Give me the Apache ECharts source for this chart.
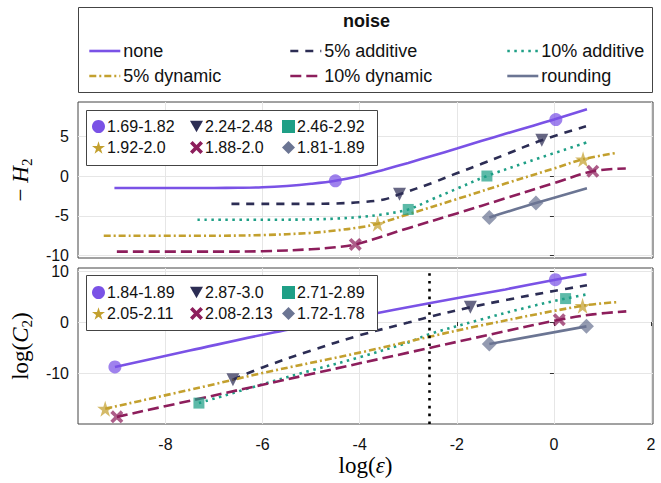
<!DOCTYPE html>
<html><head><meta charset="utf-8">
<script src="https://cdn.jsdelivr.net/npm/echarts@6/dist/echarts.min.js"></script>
<style>html,body{margin:0;padding:0;background:#fff}#c{width:661px;height:483px}</style>
</head><body><div id="c"></div>
<script>
// ---------------- data ----------------
const xTicks = [-8, -6, -4, -2, 0, 2];
const topYTicks = [-10, -5, 0, 5];
const botYTicks = [-10, 0, 10];
const noiseNames = ['none', '5% additive', '10% additive', '5% dynamic', '10% dynamic', 'rounding'];
const topRanges = ['1.69-1.82', '2.24-2.48', '2.46-2.92', '1.92-2.0', '1.88-2.0', '1.81-1.89'];
const botRanges = ['1.84-1.89', '2.87-3.0', '2.71-2.89', '2.05-2.11', '2.08-2.13', '1.72-1.78'];
const thresholdLogEps = -2.57;

// top panel: -H2 vs log(eps)
const topNoneX = [-9.05, -8, -7, -6.5, -6, -5.5, -5, -4.5, -4, -3.5, -3, -2.5, -2, -1.5, -1, -0.5, 0, 0.68];
const topNoneY = [-1.5, -1.5, -1.5, -1.48, -1.42, -1.25, -0.98, -0.6, 0.0, 0.8, 1.65, 2.55, 3.45, 4.4, 5.3, 6.2, 7.1, 8.4];
const topAdd5X = [-6.64, -5, -4.5, -4, -3.5, -3.18, -2.5, -2, -1.5, -1, -0.25, 0.66];
const topAdd5Y = [-3.5, -3.5, -3.45, -3.3, -2.95, -2.3, -0.85, 0.35, 1.5, 2.7, 4.5, 6.25];
const topAdd10X = [-7.34, -6, -5, -4.5, -4, -3.5, -3, -2.5, -2, -1.38, -0.5, 0.74];
const topAdd10Y = [-5.5, -5.5, -5.45, -5.35, -5.15, -4.8, -4.2, -2.9, -1.6, 0.0, 1.85, 4.35];
const topDyn5X = [-9.27, -7, -6, -5, -4.5, -4, -3.63, -3, -2, -1, 0, 0.6, 1.29];
const topDyn5Y = [-7.5, -7.5, -7.42, -7.15, -6.85, -6.45, -6.0, -4.8, -2.9, -0.95, 0.95, 2.1, 2.9];
const topDyn10X = [-9.0, -7, -6, -5, -4.5, -4.09, -3, -2, -1, 0, 0.8, 1.48];
const topDyn10Y = [-9.5, -9.5, -9.45, -9.2, -8.95, -8.6, -6.55, -4.7, -2.8, -0.9, 0.6, 0.95];
const topRoundX = [-1.33, -0.37, 0.68];
const topRoundY = [-5.2, -3.4, -1.55];
// fit-range markers (top)
const topNoneMX = [-4.5, 0.04],  topNoneMY = [-0.6, 7.1];
const topAdd5MX = [-3.18, -0.25], topAdd5MY = [-2.3, 4.5];
const topAdd10MX = [-3.0, -1.38], topAdd10MY = [-4.2, 0.0];
const topDyn5MX = [-3.63, 0.6],  topDyn5MY = [-6.0, 2.1];
const topDyn10MX = [-4.09, 0.8], topDyn10MY = [-8.6, 0.6];
const topRoundMX = [-1.33, -0.37], topRoundMY = [-5.2, -3.4];

// bottom panel: log(C2) vs log(eps)
const botNoneX = [-9.04, -7.5, -5.75, -4, -2.57, -1, 0.03, 0.67];
const botNoneY = [-8.8, -5.6, -2.0, 1.1, 3.7, 6.4, 8.3, 9.4];
const botAdd5X = [-6.61, -6, -5, -4, -3, -2.57, -1.72, -1, 0, 0.68];
const botAdd5Y = [-11.3, -8.9, -5.6, -2.6, -0.1, 1.0, 2.9, 4.3, 6.1, 7.2];
const botAdd10X = [-7.31, -6, -5, -4, -3, -2.57, -1.5, -0.5, 0.24, 0.72];
const botAdd10Y = [-15.9, -12.2, -9.5, -6.9, -4.0, -2.4, 0.5, 3.0, 4.6, 5.5];
const botDyn5X = [-9.24, -7.27, -6, -4, -2.57, -1.52, 0.59, 1.29];
const botDyn5Y = [-17.0, -12.8, -10.0, -6.0, -2.9, -0.7, 3.2, 3.9];
const botDyn10X = [-9.0, -7, -5, -3, -1, 0.11, 0.8, 1.49];
const botDyn10Y = [-18.6, -14.4, -10.2, -6.0, -1.8, 0.45, 1.5, 2.1];
const botRoundX = [-1.33, 0.67];
const botRoundY = [-4.3, -0.85];
// fit-range markers (bottom)
const botNoneMX = [-9.04, 0.03], botNoneMY = [-8.8, 8.3];
const botAdd5MX = [-6.61, -1.72], botAdd5MY = [-11.3, 2.9];
const botAdd10MX = [-7.31, 0.24], botAdd10MY = [-15.9, 4.6];
const botDyn5MX = [-9.24, 0.59], botDyn5MY = [-17.0, 3.2];
const botDyn10MX = [-9.0, 0.11], botDyn10MY = [-18.6, 0.45];
const botRoundMX = [-1.33, 0.67], botRoundMY = [-4.3, -0.85];

// ---------------- styles ----------------
const colors = ['#7a52e6', '#2c2d54', '#1f9f86', '#c3a02e', '#8d1e5c', '#6b7593'];
const dashes = ['solid', [8, 7], [2.5, 4.5], [7, 3, 2, 3], [11, 5], 'solid'];
const symbols = [
  'circle',
  'path://M0,0 L100,0 L50,87 Z',
  'rect',
  'path://M50,0 L61,35 L98,35 L68,57 L79,91 L50,70 L21,91 L32,57 L2,35 L39,35 Z',
  'path://M20,0 L50,30 L80,0 L100,20 L70,50 L100,80 L80,100 L50,70 L20,100 L0,80 L30,50 L0,20 Z',
  'diamond'
];
const symSizes = [13, 13, 11, 16, 13, 15];
const sansFont = 'Liberation Sans, Arial, sans-serif';
const serifFont = 'Liberation Serif, DejaVu Serif, serif';

const zip = (xs, ys) => xs.map((x, i) => [x, ys[i]]);
const topLines = [[topNoneX, topNoneY], [topAdd5X, topAdd5Y], [topAdd10X, topAdd10Y], [topDyn5X, topDyn5Y], [topDyn10X, topDyn10Y], [topRoundX, topRoundY]];
const topMarks = [[topNoneMX, topNoneMY], [topAdd5MX, topAdd5MY], [topAdd10MX, topAdd10MY], [topDyn5MX, topDyn5MY], [topDyn10MX, topDyn10MY], [topRoundMX, topRoundMY]];
const botLines = [[botNoneX, botNoneY], [botAdd5X, botAdd5Y], [botAdd10X, botAdd10Y], [botDyn5X, botDyn5Y], [botDyn10X, botDyn10Y], [botRoundX, botRoundY]];
const botMarks = [[botNoneMX, botNoneMY], [botAdd5MX, botAdd5MY], [botAdd10MX, botAdd10MY], [botDyn5MX, botDyn5MY], [botDyn10MX, botDyn10MY], [botRoundMX, botRoundMY]];

const series = [];
function addPanel(idx, lines, marks, rangeNames) {
  lines.forEach((l, i) => {
    series.push({
      type: 'line', name: noiseNames[i], xAxisIndex: idx, yAxisIndex: idx,
      data: zip(l[0], l[1]), symbol: 'none', smooth: 0.35, z: 2,
      color: colors[i],
      lineStyle: { color: colors[i], width: 2.6, type: dashes[i], cap: 'butt' }
    });
  });
  marks.forEach((m, i) => {
    series.push({
      type: 'scatter', name: rangeNames[i], xAxisIndex: idx, yAxisIndex: idx,
      data: zip(m[0], m[1]), symbol: symbols[i], symbolSize: symSizes[i], z: 3,
      color: colors[i],
      itemStyle: { color: colors[i], opacity: 0.72 }
    });
  });
}
addPanel(0, topLines, topMarks, topRanges);
addPanel(1, botLines, botMarks, botRanges);
// vertical dotted reference line in the lower panel
series.push({
  type: 'line', xAxisIndex: 1, yAxisIndex: 1, data: [], silent: true,
  markLine: {
    symbol: 'none', silent: true, label: { show: false },
    lineStyle: { color: '#000', width: 2.6, type: [2.6, 5.2] },
    data: [{ xAxis: thresholdLogEps }]
  }
});

const gridLine = { show: true, lineStyle: { color: '#e6e6e6', width: 1 } };
const tickLabel = { fontSize: 16, lineHeight: 13, fontFamily: sansFont, color: '#111' };

function xAxis(idx, showLabels) {
  return {
    type: 'value', gridIndex: idx, min: -9.8, max: 2.04, splitNumber: 6,
    axisLine: { show: false },
    axisTick: { show: showLabels, length: 4, inside: false, customValues: xTicks, lineStyle: { color: '#333' } },
    axisLabel: Object.assign({ show: showLabels, margin: 14, customValues: xTicks }, tickLabel),
    splitLine: gridLine
  };
}
function yAxis(idx, min, max, split, ticks, name, rich) {
  return {
    type: 'value', gridIndex: idx, min: min, max: max, splitNumber: split,
    axisLine: { show: false },
    axisTick: { show: true, length: 4, customValues: ticks, lineStyle: { color: '#333' } },
    axisLabel: Object.assign({ margin: 9, customValues: ticks }, tickLabel),
    splitLine: gridLine,
    name: name, nameLocation: 'middle', nameGap: 41, nameRotate: 90,
    nameTextStyle: { rich: rich }
  };
}
const nameRich = {
  n: { fontFamily: serifFont, fontSize: 23, color: '#000', lineHeight: 28, verticalAlign: 'middle' },
  i: { fontFamily: serifFont, fontSize: 23, fontStyle: 'italic', color: '#000', lineHeight: 28, verticalAlign: 'middle' },
  s: { fontFamily: serifFont, fontSize: 15, color: '#000', lineHeight: 16, verticalAlign: 'bottom', padding: [0, 0, 0, 0] }
};

function markerLegend(left, top, names) {
  return {
    left: left, top: top, orient: 'vertical', padding: 0, itemGap: 4,
    itemWidth: 13, itemHeight: 13, selectedMode: false,
    itemStyle: { opacity: 1 },
    textStyle: { fontSize: 16, fontFamily: sansFont, color: '#111', lineHeight: 17, padding: [0, 0, 0, -3] },
    data: names
  };
}
function noiseLegend(left, names) {
  return {
    left: left, top: 41, orient: 'vertical', padding: 0, itemGap: 5,
    itemWidth: 31, itemHeight: 14, selectedMode: false,
    itemStyle: { opacity: 0, borderWidth: 0 },
    lineStyle: { width: 2.6, opacity: 1 },
    textStyle: { fontSize: 18, fontFamily: sansFont, color: '#111', lineHeight: 20, padding: [0, 0, 0, -2] },
    data: names
  };
}

const option = {
  animation: false,
  backgroundColor: '#fff',
  title: {
    text: 'noise', left: 343, top: 12, padding: 0,
    textStyle: { fontSize: 18, fontWeight: 'bold', fontFamily: sansFont, color: '#111' }
  },
  grid: [
    { left: 78, top: 102, width: 575, height: 156, show: true, borderColor: '#444', borderWidth: 1, backgroundColor: 'transparent' },
    { left: 78, top: 268, width: 575, height: 156, show: true, borderColor: '#444', borderWidth: 1, backgroundColor: 'transparent' }
  ],
  xAxis: [
    xAxis(0, false),
    Object.assign(xAxis(1, true), {
      name: '{n|log(}{i|ε}{n|)}', nameLocation: 'middle', nameGap: 27,
      nameTextStyle: { rich: nameRich }
    })
  ],
  yAxis: [
    yAxis(0, -10.3, 9.3, 4, topYTicks, '{n|−}{i| H}{s|2}', nameRich),
    yAxis(1, -20, 10.6, 3, botYTicks, '{n|log(}{i|C}{s|2}{n|)}', nameRich)
  ],
  legend: [
    noiseLegend(88, [noiseNames[0], noiseNames[3]]),
    noiseLegend(289, [noiseNames[1], noiseNames[4]]),
    noiseLegend(506, [noiseNames[2], noiseNames[5]]),
    markerLegend(92, 118, [topRanges[0], topRanges[3]]),
    markerLegend(190, 118, [topRanges[1], topRanges[4]]),
    markerLegend(282, 118, [topRanges[2], topRanges[5]]),
    markerLegend(92, 284, [botRanges[0], botRanges[3]]),
    markerLegend(190, 284, [botRanges[1], botRanges[4]]),
    markerLegend(282, 284, [botRanges[2], botRanges[5]])
  ],
  graphic: [
    { type: 'rect', z: 1, shape: { x: 78.5, y: 7.5, width: 574, height: 85 }, style: { fill: '#fff', stroke: '#444', lineWidth: 1 } },
    { type: 'rect', z: 5, shape: { x: 86.5, y: 110.5, width: 291, height: 55 }, style: { fill: '#fff', stroke: '#444', lineWidth: 1 } },
    { type: 'rect', z: 5, shape: { x: 86.5, y: 275.5, width: 291, height: 55 }, style: { fill: '#fff', stroke: '#444', lineWidth: 1 } }
  ],
  series: series
};
option.legend.forEach(l => { l.z = 10; });

const chart = echarts.init(document.getElementById('c'), null, { renderer: 'svg', width: 661, height: 483 });
chart.setOption(option);
</script>
</body></html>
